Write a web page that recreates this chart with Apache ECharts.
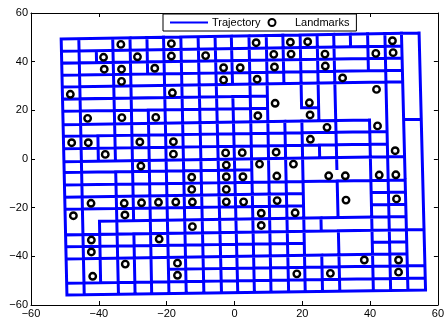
<!DOCTYPE html>
<html>
<head>
<meta charset="utf-8">
<script src="https://cdn.jsdelivr.net/npm/echarts@6/dist/echarts.min.js"></script>
<style>
  html, body { margin: 0; padding: 0; background: #fff; }
  #chart { width: 447px; height: 321px; }
</style>
</head>
<body>
<div id="chart"></div>
<script>
// axis ticks
const axisTicks = [-60, -40, -20, 0, 20, 40, 60];

// trajectory grid (the grid is slightly tilted)
// y of each row line at its left end and at its right end
const rowYLeft = [49.3, 44.3, 39.4, 34.4, 29.6, 24.6, 19.6, 14.1, 9.3, 4.2, -1.1,
  -5.6, -10.7, -15.7, -20.7, -25.8, -31.2, -36.1, -41.1, -46.0, -51.1, -55.9];
const rowYRight = [51.8, 46.5, 41.6, 36.6, 31.8, 26.8, 21.8, 16.3, 11.5, 6.4, 1.1,
  -3.4, -8.5, -13.5, -18.5, -23.6, -29.0, -33.9, -38.9, -43.8, -48.9, -53.9];
// x of each column line at its top end and at its bottom end
const colXTop = [-51.1, -45.9, -40.8, -35.9, -30.8, -25.8, -20.9, -15.8, -10.7, -5.7, -0.9,
  4.3, 9.4, 14.3, 19.4, 24.4, 29.3, 34.2, 39.3, 44.4, 49.3, 54.5];
const colXBottom = [-49.4, -44.3, -39.4, -34.2, -29.3, -24.4, -19.3, -14.2, -9.0, -3.8, 1.0,
  5.9, 10.8, 16.0, 20.9, 26.0, 31.1, 36.0, 41.0, 46.1, 51.2, 56.4];

// pieces of the grid that the robot never drove
// column line -> row bands without a vertical piece
const vGaps = {
  2: [0, 2, 3, 4, 5, 6, 7, 10, 11, 12, 13, 14, 20],
  3: [10],
  4: [15],
  5: [3, 4, 5],
  10: [4],
  13: [4, 5, 6],
  14: [6],
  15: [7, 8, 10, 11, 12, 13, 14, 16, 17],
  16: [11, 15],
  17: [1, 2, 3, 4, 5, 6, 7, 8, 9, 10, 11, 12, 13, 14, 15, 16, 17, 18, 19, 20],
  18: [3, 4, 5, 6],
};
// row line -> cells without a horizontal piece
const hGaps = {
  1: [20], 2: [20], 3: [20], 4: [20],
  5: [12, 13, 14, 15, 16, 17, 18, 19, 20],
  6: [12, 13, 15, 16, 17, 18, 19, 20],
  7: [18, 19],
  8: [19, 20],
  9: [19, 20],
  10: [20],
  11: [11, 12, 13, 14, 15, 16, 17, 18, 19, 20],
  12: [20],
  13: [14, 15, 16, 17, 20],
  14: [14, 15, 16, 17, 20],
  15: [0, 1, 20],
  17: [14, 15, 16, 17, 20],
  18: [20],
  19: [0, 1, 2, 3, 4, 5],
};

const landmarks = [
  [-33.5, 47.1], [-18.6, 47.4], [-38.6, 41.8], [-28.6, 42.0], [-18.6, 42.3], [-8.5, 42.5],
  [-38.4, 36.9], [-33.3, 36.9], [-23.5, 37.3], [-3.2, 37.5], [-33.3, 31.9], [-3.2, 32.5],
  [-48.4, 26.6], [-18.3, 27.2], [-43.3, 16.7], [-33.2, 17.0], [-23.2, 17.1], [-48.0, 6.7],
  [-43.1, 6.7], [-27.9, 7.0], [-18.0, 7.1], [-38.1, 1.9], [-18.0, 2.0], [-2.6, 2.5],
  [6.4, 47.8], [16.5, 48.0], [21.6, 48.2], [46.6, 48.6], [11.6, 43.0], [16.7, 43.1],
  [26.7, 43.1], [41.7, 43.4], [46.8, 43.7], [1.7, 37.5], [11.8, 37.8], [26.8, 38.2],
  [6.7, 32.8], [31.9, 33.3], [41.9, 28.6], [12.0, 22.9], [22.1, 23.1], [6.9, 17.8],
  [22.3, 18.1], [27.3, 13.0], [42.2, 13.6], [22.4, 8.1], [2.3, 2.6], [12.3, 2.8],
  [47.4, 3.4], [-27.6, -2.9], [-12.6, -7.5], [-12.6, -12.5], [-42.3, -18.2], [-32.5, -18.2],
  [-27.4, -18.0], [-22.4, -17.8], [-17.3, -17.7], [-12.4, -17.7], [-47.5, -23.3], [-32.3, -23.0],
  [-12.4, -27.8], [-42.2, -33.3], [-22.2, -32.9], [-42.2, -38.2], [-32.2, -43.2], [-16.8, -42.8],
  [-41.8, -48.2], [-16.8, -47.8], [-2.4, -2.5], [7.4, -2.1], [17.4, -2.1], [-2.4, -7.3],
  [2.5, -7.3], [12.5, -7.0], [27.8, -6.9], [32.7, -6.9], [42.7, -6.6], [47.6, -6.5],
  [-2.4, -12.5], [-2.4, -17.6], [2.7, -17.6], [12.6, -17.1], [32.9, -16.9], [47.8, -16.4],
  [7.9, -22.3], [17.9, -22.1], [7.9, -27.3], [38.3, -41.5], [48.4, -41.5], [18.4, -47.2],
  [28.3, -47.0], [48.4, -46.5],
];

const nCols = colXTop.length;
const nRows = rowYLeft.length;

// where column line i crosses row line j
function node(i, j) {
  let x = colXTop[i];
  let y = rowYLeft[j];
  for (let k = 0; k < 4; k++) {
    const s = (x - colXTop[0]) / (colXTop[nCols - 1] - colXTop[0]);
    y = rowYLeft[j] + (rowYRight[j] - rowYLeft[j]) * s;
    const t = (rowYLeft[0] - y) / (rowYLeft[0] - rowYLeft[nRows - 1]);
    x = colXTop[i] + (colXBottom[i] - colXTop[i]) * t;
  }
  return [x, y];
}

// runs of grid pieces -> line pieces, split by nulls
const trajectory = [];
for (let j = 0; j < nRows; j++) {
  const gaps = hGaps[j] || [];
  let start = null;
  for (let i = 0; i < nCols; i++) {
    const open = i < nCols - 1 && !gaps.includes(i);
    if (open && start === null) start = i;
    if (!open && start !== null) {
      trajectory.push(node(start, j), node(i, j), null);
      start = null;
    }
  }
}
for (let i = 0; i < nCols; i++) {
  const gaps = vGaps[i] || [];
  let start = null;
  for (let j = 0; j < nRows; j++) {
    const open = j < nRows - 1 && !gaps.includes(j);
    if (open && start === null) start = j;
    if (!open && start !== null) {
      trajectory.push(node(i, start), node(i, j), null);
      start = null;
    }
  }
}

const font = "'Liberation Sans', Arial, sans-serif";
const minus = v => String(v).replace('-', '\u2212');

function axis(position, labels) {
  return {
    type: 'value',
    position,
    min: axisTicks[0],
    max: axisTicks[axisTicks.length - 1],
    interval: axisTicks[1] - axisTicks[0],
    axisLine: { show: true, onZero: false, lineStyle: { color: '#000', width: 1 } },
    axisTick: { show: true, inside: true, length: 4, lineStyle: { color: '#000' } },
    axisLabel: { show: labels, color: '#000', fontSize: 11, fontFamily: font, margin: 3, formatter: minus },
    splitLine: { show: false },
  };
}

const chart = echarts.init(document.getElementById('chart'), null, { renderer: 'canvas' });
chart.setOption({
  animation: false,
  backgroundColor: '#fff',
  grid: { left: 31, right: 7, top: 13, bottom: 16, containLabel: false },
  xAxis: [axis('bottom', true), axis('top', false)],
  yAxis: [axis('left', true), axis('right', false)],
  legend: {
    left: 163,
    top: 14,
    padding: [3, 7],
    itemGap: 7,
    itemWidth: 36,
    itemHeight: 7,
    borderColor: '#000',
    borderWidth: 1,
    backgroundColor: '#fff',
    textStyle: { fontSize: 11, fontFamily: font, color: '#000' },
    data: [
      // plain line sample, no marker
      { name: 'Trajectory', itemStyle: { opacity: 0 } },
      { name: 'Landmarks' },
    ],
  },
  series: [
    {
      name: 'Trajectory',
      type: 'line',
      data: trajectory,
      symbol: 'none',
      showSymbol: false,
      connectNulls: false,
      lineStyle: { color: '#0000ff', width: 3, cap: 'square' },
      itemStyle: { color: '#0000ff' },
      z: 2,
    },
    {
      name: 'Landmarks',
      type: 'scatter',
      data: landmarks,
      symbol: 'circle',
      symbolSize: 6.5,
      itemStyle: { color: '#fff', borderColor: '#000', borderWidth: 2.4, opacity: 1 },
      z: 3,
    },
  ],
});
</script>
</body>
</html>
